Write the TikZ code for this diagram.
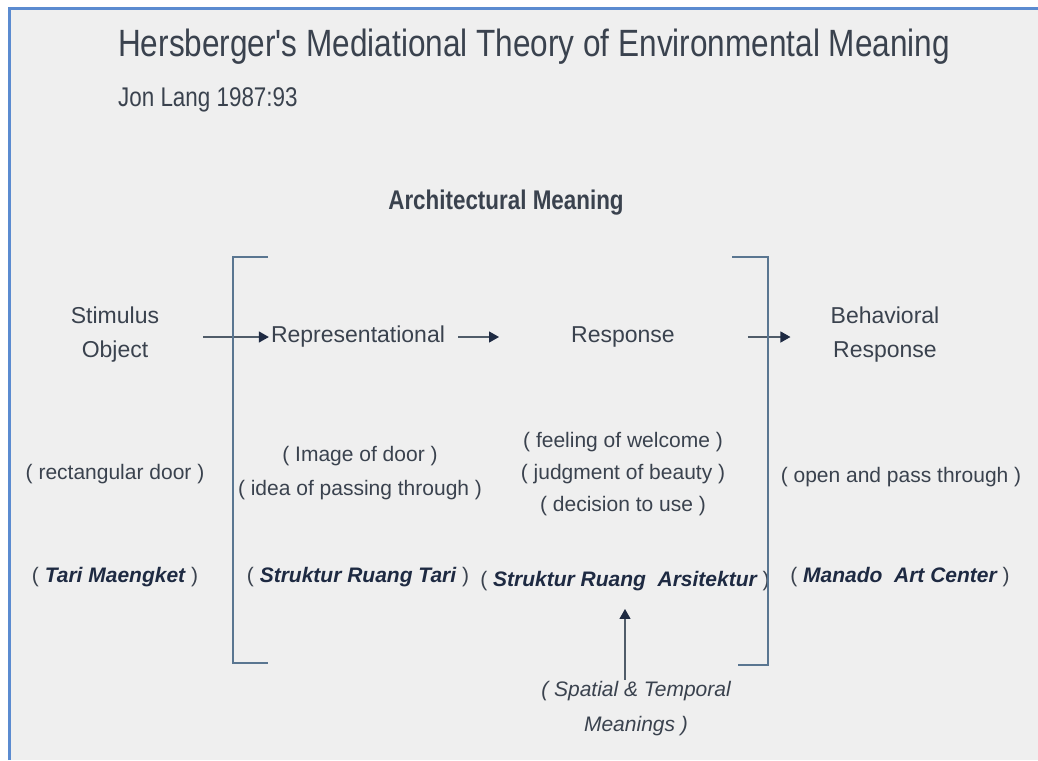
\documentclass[tikz,border=0pt]{standalone}
\usepackage{fontspec}
\setmainfont{Liberation Sans}
\newfontfamily\titlefont[FakeStretch=0.83]{Liberation Sans}
\usetikzlibrary{arrows.meta,positioning}
\definecolor{framecolor}{RGB}{91,139,208}
\definecolor{bgcolor}{RGB}{239,239,239}
\definecolor{textcolor}{RGB}{58,66,78}
\definecolor{boldcolor}{RGB}{30,42,66}
\definecolor{bracketcolor}{RGB}{90,118,145}
\definecolor{arrowcolor}{RGB}{80,92,105}
\newcommand{\exname}[1]{{\color{boldcolor}\bfseries\itshape #1}}

\begin{document}
\begin{tikzpicture}[x=1pt, y=-1pt,
    label/.style={font=\fontsize{21}{34}\selectfont, text=textcolor, align=center, inner sep=2pt},
    stage/.style={label, font=\fontsize{23}{34}\selectfont},
    heading/.style={font=\titlefont, text=textcolor, anchor=west, inner sep=0pt},
    arrow/.style={-{Triangle[length=10pt,width=11pt,color=boldcolor]}, draw=arrowcolor, line width=1.2pt},
    bracket/.style={draw=bracketcolor, line width=1.8pt}
]
\useasboundingbox (0,0) rectangle (1038,760);

% Background and frame
\fill[white] (0,0) rectangle (1038,760);
\fill[bgcolor] (9,9) rectangle (1038,760);
\draw[framecolor, line width=3pt] (9,760) -- (9,9) -- (1038,9);

% Title
\node[heading, font=\titlefont\fontsize{38}{40}\selectfont] (title) at (118,47) {Hersberger's Mediational Theory of Environmental Meaning};
\node[heading, font=\titlefont\fontsize{27}{28}\selectfont] (source) at (118,100) {Jon Lang 1987:93};
\node[heading, anchor=center, font=\titlefont\bfseries\fontsize{27}{28}\selectfont] (archmeaning) at (506,203) {Architectural Meaning};

% Main row
\node[stage] (stimulus) at (115,335) {Stimulus\\Object};
\node[stage] (repr) at (358,337) {Representational};
\node[stage] (resp) at (623,337) {Response};
\node[stage] (behav) at (885,335) {Behavioral\\Response};

\draw[arrow, shorten <=42pt] (stimulus.east |- repr.west) -- (repr.west);
\draw[arrow, shorten <=11pt, shorten >=70pt] (repr.east) -- (resp.west);
\draw[arrow, shorten <=71pt, shorten >=38pt] (resp.east) -- (behav.west |- resp.east);

% Door example
\node[label] (door) at (115,474) {( rectangular door )};
\node[label] (image) at (360,473) {( Image of door )\\( idea of passing through )};
\node[label] (feeling) at (623,474) {( feeling of welcome )\\[-2pt]( judgment of beauty )\\[-2pt]( decision to use )};
\node[label] (pass) at (901,477) {( open and pass through )};

% Case study
\node[label] (tari) at (115,577) {( \exname{Tari Maengket} )};
\node[label] (ruangtari) at (358,577) {( \exname{Struktur Ruang Tari} )};
\node[label] (arsi) at (625,581) {( \exname{Struktur Ruang\ \ Arsitektur} )};
\node[label] (manado) at (900,577) {( \exname{Manado\ \ Art Center} )};

\node[label, font=\itshape\fontsize{21}{35}\selectfont] (spatial) at (636,709) {( Spatial \& Temporal\\Meanings )};
\draw[arrow, shorten >=16pt] (arsi.south |- spatial.north) -- (arsi.south);

% Brackets
\draw[bracket] (268,257) -- (233,257) -- (233,663) -- (268,663);
\draw[bracket] (732,257) -- (768,257) -- (768,665) -- (738,665);

\end{tikzpicture}
\end{document}
